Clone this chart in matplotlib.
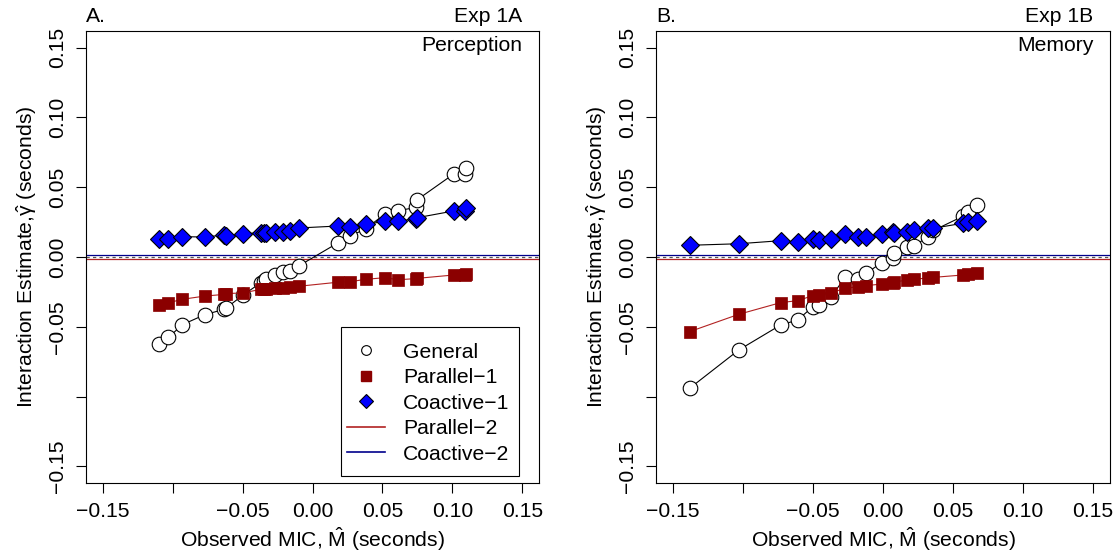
import matplotlib
matplotlib.use("Agg")
import matplotlib.pyplot as plt
from matplotlib.lines import Line2D
from matplotlib.patches import Rectangle
from matplotlib.transforms import blended_transform_factory

plt.rcParams["font.family"] = ["Liberation Sans", "DejaVu Sans"]
plt.rcParams["mathtext.fontset"] = "custom"
plt.rcParams["mathtext.rm"] = "Liberation Sans"
plt.rcParams["mathtext.it"] = "Liberation Sans:italic"

# ---- Experiment 1A (Perception) ----
mic_a = [-0.110, -0.103, -0.093, -0.077, -0.063, -0.062, -0.050, -0.037, -0.035,
         -0.033, -0.027, -0.021, -0.016, -0.010, 0.018, 0.027, 0.038, 0.052,
         0.061, 0.074, 0.075, 0.101, 0.109, 0.110]
general_a = [-0.0624, -0.0576, -0.0485, -0.0413, -0.0375, -0.0368, -0.0275, -0.0185,
             -0.0172, -0.0160, -0.0131, -0.0105, -0.0098, -0.0065, 0.0100, 0.0150,
             0.0202, 0.0310, 0.0332, 0.0355, 0.0411, 0.0595, 0.0598, 0.0636]
parallel1_a = [-0.0344, -0.0328, -0.0303, -0.0280, -0.0268, -0.0262, -0.0258, -0.0232,
               -0.0230, -0.0229, -0.0225, -0.0220, -0.0217, -0.0210, -0.0181, -0.0177,
               -0.0160, -0.0148, -0.0163, -0.0155, -0.0153, -0.0129, -0.0126, -0.0124]
coactive1_a = [0.0127, 0.0131, 0.0146, 0.0143, 0.0158, 0.0150, 0.0167, 0.0174,
               0.0170, 0.0174, 0.0181, 0.0181, 0.0184, 0.0208, 0.0222, 0.0213,
               0.0234, 0.0256, 0.0256, 0.0275, 0.0282, 0.0330, 0.0330, 0.0349]

# ---- Experiment 1B (Memory) ----
mic_b = [-0.138, -0.103, -0.073, -0.061, -0.050, -0.046, -0.037, -0.027, -0.018,
         -0.012, -0.001, 0.007, 0.008, 0.017, 0.022, 0.032, 0.036, 0.057, 0.061, 0.067]
general_b = [-0.0941, -0.0667, -0.0487, -0.0452, -0.0356, -0.0344, -0.0285, -0.0146,
             -0.0160, -0.0117, -0.0041, -0.0005, 0.0028, 0.0074, 0.0077, 0.0146,
             0.0190, 0.0292, 0.0325, 0.0375]
parallel1_b = [-0.0535, -0.0411, -0.0327, -0.0313, -0.0277, -0.0270, -0.0256, -0.0225,
               -0.0213, -0.0205, -0.0194, -0.0184, -0.0180, -0.0165, -0.0160, -0.0150,
               -0.0146, -0.0129, -0.0125, -0.0117]
coactive1_b = [0.0084, 0.0095, 0.0117, 0.0108, 0.0131, 0.0122, 0.0131, 0.0165, 0.0146,
               0.0141, 0.0163, 0.0181, 0.0175, 0.0181, 0.0194, 0.0206, 0.0206, 0.0242,
               0.0253, 0.0260]

# Reference levels of the two-stage models
parallel2_level = -0.0014
coactive2_level = 0.0017

ticks = [-0.15, -0.10, -0.05, 0.00, 0.05, 0.10, 0.15]
tick_labels = ["\u22120.15", "", "\u22120.05", "0.00", "0.05", "0.10", "0.15"]

RED_LINE = "#B22222"
DARK_RED = "#8B0000"
NAVY = "#00008B"
BLUE = "#0000FF"
FS = 15.2

W, H = 1120, 554
fig = plt.figure(figsize=(W / 100, H / 100), dpi=100)


def px_axes(left, right, top, bottom):
    return fig.add_axes([left / W, 1 - bottom / H, (right - left) / W, (bottom - top) / H])


def panel(ax, mic, general, par1, coact1, letter, exp, task):
    ax.axhline(0, color="#555555", lw=0.9, dashes=(2.6, 2.6), zorder=1)
    ax.axhline(parallel2_level, color=RED_LINE, lw=0.9, zorder=1)
    ax.axhline(coactive2_level, color=NAVY, lw=0.9, zorder=1)
    ax.plot(mic, general, color="black", lw=0.8, marker="o", ms=10.5,
            mfc="white", mec="black", mew=0.8, zorder=2)
    ax.plot(mic, par1, color=RED_LINE, lw=0.8, marker="s", ms=9.3,
            mfc=DARK_RED, mec=DARK_RED, mew=0.5, zorder=3)
    ax.plot(mic, coact1, color="black", lw=0.8, marker="D", ms=9.5,
            mfc=BLUE, mec="black", mew=0.8, zorder=4)

    ax.set_xlim(-0.162, 0.162)
    ax.set_ylim(-0.162, 0.162)
    ax.set_xticks(ticks)
    ax.set_xticklabels(tick_labels, fontsize=FS)
    ax.set_yticks(ticks)
    ax.set_yticklabels(tick_labels, fontsize=FS, rotation=90, va="center")
    ax.tick_params(direction="out", length=7, width=0.8, pad=6.5)
    for s in ax.spines.values():
        s.set_linewidth(0.8)

    ax.set_xlabel(r"Observed MIC, $\hat{\mathrm{M}}$ (seconds)", fontsize=FS, labelpad=3)
    ax.set_ylabel(r"Interaction Estimate,$\hat{\mathrm{\gamma}}$ (seconds)", fontsize=FS,
                  labelpad=7)

    tr = blended_transform_factory(ax.transData, ax.transAxes)
    ax.text(0.0, 1.012, letter, transform=ax.transAxes, ha="left", va="bottom", fontsize=FS)
    ax.text(0.15, 1.012, exp, transform=tr, ha="right", va="bottom", fontsize=FS)
    ax.text(0.15, 0.988, task, transform=tr, ha="right", va="top", fontsize=FS)


AX_L, AX_R, AX_T, AX_B = 86, 539, 31, 483
axA = px_axes(AX_L, AX_R, AX_T, AX_B)
axB = px_axes(656, 1110, 31, 483)

panel(axA, mic_a, general_a, parallel1_a, coactive1_a, "A.", "Exp 1A", "Perception")
panel(axB, mic_b, general_b, parallel1_b, coactive1_b, "B.", "Exp 1B", "Memory")


def ax_frac(px, py):
    return ((px - AX_L) / (AX_R - AX_L), (AX_B - py) / (AX_B - AX_T))


handles = [
    Line2D([], [], ls="none", marker="o", ms=7, mfc="white", mec="black", mew=0.8),
    Line2D([], [], ls="none", marker="s", ms=6.5, mfc=DARK_RED, mec=DARK_RED),
    Line2D([], [], ls="none", marker="D", ms=7, mfc=BLUE, mec="black", mew=0.8),
    Line2D([], [], color=RED_LINE, lw=1.2),
    Line2D([], [], color=NAVY, lw=1.2),
]
labels = ["General", "Parallel\u22121", "Coactive\u22121", "Parallel\u22122", "Coactive\u22122"]
leg = axA.legend(handles, labels, loc="upper left",
                 bbox_to_anchor=ax_frac(347, 342.5),
                 borderaxespad=0, borderpad=0, fontsize=FS, frameon=False,
                 handlelength=1.8, handletextpad=0.85, labelspacing=0.31)
leg.set_zorder(10)

# legend box
x0, y0 = ax_frac(341, 476)
x1, y1 = ax_frac(519, 327)
axA.add_patch(Rectangle((x0, y0), x1 - x0, y1 - y0, transform=axA.transAxes,
                        facecolor="white", edgecolor="black", lw=0.8, zorder=9))

fig.savefig("out.png", dpi=100)
